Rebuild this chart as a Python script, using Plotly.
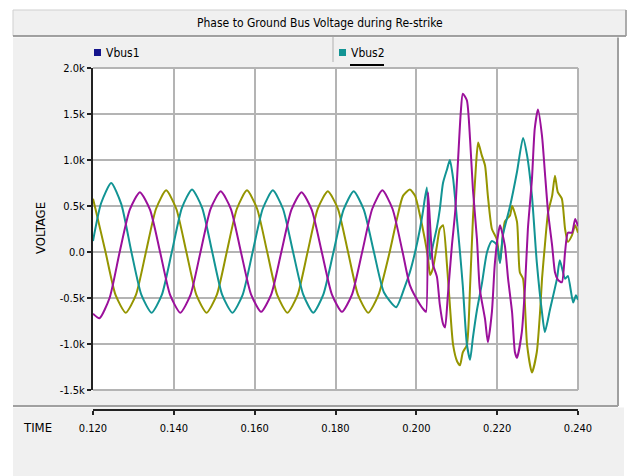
import plotly.graph_objects as go

# ---- phase-to-ground bus voltages (kV) ----
phase_a_t = [0.1200, 0.1216, 0.1241, 0.1266, 0.1291, 0.1316, 0.1341, 0.1366, 0.1391, 0.1416,
             0.1441, 0.1466, 0.1491, 0.1516, 0.1541, 0.1566, 0.1591, 0.1616, 0.1641, 0.1666,
             0.1691, 0.1716, 0.1741, 0.1766, 0.1791, 0.1816, 0.1841, 0.1866, 0.1891, 0.1916,
             0.1941, 0.1966, 0.1984, 0.2009, 0.2019, 0.2024, 0.2029, 0.2041, 0.2051, 0.2058,
             0.2066, 0.2071, 0.2078, 0.2088, 0.2096, 0.2103, 0.2110, 0.2115, 0.2125, 0.2133,
             0.2140, 0.2150, 0.2157, 0.2170, 0.2177, 0.2187, 0.2194, 0.2202, 0.2207, 0.2219,
             0.2227, 0.2237, 0.2244, 0.2249, 0.2261, 0.2269, 0.2276, 0.2286, 0.2293, 0.2301,
             0.2311, 0.2318, 0.2326, 0.2336, 0.2343, 0.2350, 0.2360, 0.2368, 0.2375, 0.2385,
             0.2393, 0.2400]
phase_a_v = [-0.67, -0.72, -0.50, 0.00, 0.46, 0.65, 0.46, 0.00, -0.47, -0.66,
             -0.47, 0.00, 0.47, 0.66, 0.47, 0.00, -0.46, -0.65, -0.46, 0.00,
             0.46, 0.65, 0.46, 0.00, -0.46, -0.65, -0.46, 0.00, 0.47, 0.67,
             0.47, 0.00, -0.36, -0.57, -0.63, -0.65, 0.65, -0.13, -0.27, -0.57,
             -0.78, -0.82, -0.47, 0.07, 0.43, 0.98, 1.52, 1.72, 1.65, 1.22,
             0.68, 0.14, -0.40, -0.73, -0.98, -0.65, -0.14, 0.18, 0.29, 0.07,
             -0.29, -0.66, -1.09, -1.15, -0.87, -0.37, 0.25, 0.79, 1.34, 1.55,
             1.26, 0.87, 0.43, 0.07, -0.22, -0.30, -0.33, 0.00, 0.21, 0.21,
             0.36, 0.28]

phase_b_t = [0.1200, 0.1220, 0.1245, 0.1270, 0.1295, 0.1320, 0.1345, 0.1370, 0.1395, 0.1420,
             0.1445, 0.1470, 0.1495, 0.1520, 0.1545, 0.1570, 0.1595, 0.1620, 0.1645, 0.1670,
             0.1695, 0.1720, 0.1745, 0.1770, 0.1795, 0.1820, 0.1845, 0.1870, 0.1895, 0.1920,
             0.1950, 0.1972, 0.1984, 0.1997, 0.2009, 0.2016, 0.2026, 0.2034, 0.2041, 0.2051,
             0.2058, 0.2066, 0.2076, 0.2083, 0.2091, 0.2101, 0.2108, 0.2115, 0.2125, 0.2133,
             0.2140, 0.2150, 0.2162, 0.2175, 0.2187, 0.2199, 0.2207, 0.2214, 0.2232, 0.2249,
             0.2264, 0.2274, 0.2286, 0.2298, 0.2311, 0.2318, 0.2331, 0.2348, 0.2355, 0.2368,
             0.2375, 0.2388, 0.2395, 0.2400]
phase_b_v = [0.12, 0.53, 0.75, 0.52, 0.00, -0.47, -0.66, -0.47, 0.00, 0.48,
             0.68, 0.48, 0.00, -0.47, -0.66, -0.47, 0.00, 0.47, 0.67, 0.47,
             0.00, -0.46, -0.66, -0.46, 0.00, 0.46, 0.66, 0.46, 0.00, -0.44,
             -0.60, -0.37, -0.22, 0.00, 0.25, 0.43, 0.70, -0.08, 0.07, 0.27,
             0.46, 0.75, 0.90, 1.00, 0.80, 0.33, 0.00, -0.37, -1.00, -1.17,
             -0.93, -0.63, -0.35, 0.00, 0.12, 0.08, -0.12, 0.18, 0.50, 0.87,
             1.24, 1.05, 0.61, -0.11, -0.66, -0.87, -0.62, -0.29, -0.09, -0.29,
             -0.26, -0.55, -0.47, -0.52]

phase_c_t = [0.1200, 0.1206, 0.1231, 0.1256, 0.1281, 0.1306, 0.1331, 0.1356, 0.1381, 0.1406,
             0.1431, 0.1456, 0.1481, 0.1506, 0.1531, 0.1556, 0.1581, 0.1606, 0.1631, 0.1656,
             0.1681, 0.1706, 0.1731, 0.1756, 0.1781, 0.1806, 0.1831, 0.1856, 0.1881, 0.1906,
             0.1934, 0.1952, 0.1967, 0.1984, 0.1997, 0.2009, 0.2021, 0.2029, 0.2034, 0.2041,
             0.2051, 0.2058, 0.2066, 0.2076, 0.2083, 0.2091, 0.2101, 0.2108, 0.2115, 0.2125,
             0.2133, 0.2140, 0.2148, 0.2153, 0.2162, 0.2170, 0.2177, 0.2187, 0.2199, 0.2207,
             0.2219, 0.2232, 0.2237, 0.2249, 0.2256, 0.2264, 0.2274, 0.2286, 0.2298, 0.2306,
             0.2311, 0.2318, 0.2326, 0.2336, 0.2343, 0.2350, 0.2360, 0.2368, 0.2375, 0.2385,
             0.2393, 0.2400]
phase_c_v = [0.58, 0.47, 0.00, -0.47, -0.66, -0.47, 0.00, 0.47, 0.67, 0.47,
             0.00, -0.47, -0.66, -0.47, 0.00, 0.47, 0.67, 0.47, 0.00, -0.47,
             -0.66, -0.47, 0.00, 0.47, 0.66, 0.47, 0.00, -0.47, -0.66, -0.47,
             0.00, 0.36, 0.61, 0.68, 0.61, 0.40, 0.14, -0.07, -0.25, -0.18,
             0.07, 0.25, 0.29, -0.15, -0.58, -1.01, -1.19, -1.23, -1.09, -1.01,
             -0.37, 0.36, 0.97, 1.19, 1.05, 0.94, 0.61, 0.25, 0.14, -0.11,
             0.33, 0.40, 0.50, 0.33, -0.22, -0.29, -1.01, -1.31, -1.09, -0.66,
             -0.29, 0.07, 0.43, 0.61, 0.83, 0.65, 0.58, 0.25, 0.11, 0.18,
             0.29, 0.21]

y_tick_vals = [2.0, 1.5, 1.0, 0.5, 0.0, -0.5, -1.0, -1.5]
y_tick_text = ["2.0k", "1.5k", "1.0k", "0.5k", "0.0", "-0.5k", "-1.0k", "-1.5k"]
x_tick_vals = [0.12, 0.14, 0.16, 0.18, 0.20, 0.22, 0.24]
x_tick_text = ["0.120", "0.140", "0.160", "0.180", "0.200", "0.220", "0.240"]

TITLE = "Phase to Ground Bus Voltage during Re-strike"
legend_names = ["Vbus1", "Vbus2"]
legend_colors = ["#14148c", "#129494"]

FONT = "Liberation Sans Narrow, DejaVu Sans Condensed, Arial Narrow, Roboto Condensed, sans-serif"
PURPLE, TEAL, OLIVE = "#9b109b", "#129494", "#959500"
GRID = "#b4b4b4"
PANEL = "#f0f0f0"

# page geometry in pixels
W, H = 634, 476
L, R, T, B = 93, 578, 68, 410          # plotting region (B = time ruler line)
PLOT_BOTTOM = 390                      # bottom edge of the voltage panel


def px(x):
    return (x - L) / (R - L)


def py(y):
    return (B - y) / (B - T)


fig = go.Figure()
for t, v, c in [(phase_c_t, phase_c_v, OLIVE),
                (phase_b_t, phase_b_v, TEAL),
                (phase_a_t, phase_a_v, PURPLE)]:
    fig.add_trace(go.Scatter(x=t, y=v, mode="lines",
                             line=dict(color=c, width=2, shape="spline", smoothing=0.6),
                             hoverinfo="skip", showlegend=False))

# carrier for the separate time ruler axis
fig.add_trace(go.Scatter(x=[x_tick_vals[0], x_tick_vals[-1]], y=[None, None],
                         xaxis="x2", yaxis="y", mode="lines", showlegend=False))

shapes = [
    # title bar
    dict(type="rect", xref="paper", yref="paper", x0=px(13), x1=px(626), y0=py(36), y1=py(10),
         fillcolor=PANEL, line=dict(color="#cfcfcf", width=1), layer="below"),
    dict(type="line", xref="paper", yref="paper", x0=px(13), x1=px(626), y0=py(36), y1=py(36),
         line=dict(color="#8a8a8a", width=1.5), layer="below"),
    dict(type="line", xref="paper", yref="paper", x0=px(626), x1=px(626), y0=py(36), y1=py(10),
         line=dict(color="#9a9a9a", width=1.5), layer="below"),
    # plot panel
    dict(type="rect", xref="paper", yref="paper", x0=px(13), x1=px(618), y0=py(406), y1=py(37.5),
         fillcolor=PANEL, line=dict(width=0), layer="below"),
    dict(type="line", xref="paper", yref="paper", x0=px(618), x1=px(618), y0=py(406), y1=py(37.5),
         line=dict(color="#a0a0a0", width=2), layer="below"),
    dict(type="line", xref="paper", yref="paper", x0=px(13), x1=px(618), y0=py(406), y1=py(406),
         line=dict(color="#a0a0a0", width=2), layer="below"),
    # time ruler strip
    dict(type="rect", xref="paper", yref="paper", x0=px(13), x1=px(624), y0=py(476), y1=py(407.5),
         fillcolor=PANEL, line=dict(width=0), layer="below"),
    # white plotting area
    dict(type="rect", xref="paper", yref="paper", x0=0, x1=1, y0=py(PLOT_BOTTOM), y1=1,
         fillcolor="white", line=dict(width=0), layer="below"),
    # grey frame on top, right and bottom of the plotting area
    dict(type="line", xref="paper", yref="paper", x0=0, x1=1, y0=1, y1=1,
         line=dict(color=GRID, width=2), layer="below"),
    dict(type="line", xref="paper", yref="paper", x0=1, x1=1, y0=py(PLOT_BOTTOM), y1=1,
         line=dict(color=GRID, width=2), layer="below"),
    dict(type="line", xref="paper", yref="paper", x0=0, x1=1, y0=py(PLOT_BOTTOM), y1=py(PLOT_BOTTOM),
         line=dict(color=GRID, width=2), layer="below"),
    # legend row divider and underline
    dict(type="line", xref="paper", yref="paper", x0=px(333), x1=px(333), y0=py(62), y1=py(37),
         line=dict(color="#b0b0b0", width=1), layer="below"),
    dict(type="line", xref="paper", yref="paper", x0=px(350), x1=px(384), y0=py(65), y1=py(65),
         line=dict(color="black", width=2)),
]

annotations = [
    dict(text=TITLE, xref="paper", yref="paper", x=px(320), y=py(23), showarrow=False,
         font=dict(size=12, color="black", family=FONT), xanchor="center", yanchor="middle"),
    dict(text="VOLTAGE", xref="paper", yref="paper", x=px(40), y=py(228), showarrow=False,
         textangle=-90, font=dict(size=13, color="black", family=FONT),
         xanchor="center", yanchor="middle"),
    dict(text="TIME", xref="paper", yref="paper", x=px(37), y=py(427), showarrow=False,
         font=dict(size=13, color="black", family=FONT), xanchor="center", yanchor="middle"),
]

legend_x = [94, 339]
for name, col, lx in zip(legend_names, legend_colors, legend_x):
    shapes.append(dict(type="rect", xref="paper", yref="paper", x0=px(lx), x1=px(lx + 7),
                       y0=py(56), y1=py(49), fillcolor=col, line=dict(width=0)))
    annotations.append(dict(text=name, xref="paper", yref="paper", x=px(lx + 10), y=py(52.5),
                            showarrow=False, xanchor="left", yanchor="middle",
                            font=dict(size=12, color="black", family=FONT)))

fig.update_layout(
    width=W, height=H,
    margin=dict(l=L, r=W - R, t=T, b=H - B, pad=0),
    paper_bgcolor="white", plot_bgcolor="white",
    font=dict(family=FONT, size=11, color="black"),
    showlegend=False,
    shapes=shapes, annotations=annotations,
    xaxis=dict(range=[0.12, 0.24], tickvals=x_tick_vals, showticklabels=False,
               showgrid=True, gridcolor=GRID, gridwidth=1.5, zeroline=False,
               showline=False, ticks=""),
    xaxis2=dict(range=[0.12, 0.24], overlaying="x", anchor="free", position=0, side="bottom",
                tickvals=x_tick_vals, ticktext=x_tick_text, showgrid=False, zeroline=False,
                showline=True, linecolor="#222222", linewidth=2, ticks="outside", ticklen=4,
                tickwidth=1.5, tickcolor="#222222", ticklabelstandoff=4,
                tickfont=dict(size=11, family=FONT, color="black")),
    yaxis=dict(domain=[py(PLOT_BOTTOM), 1], range=[-1.5, 2.0], tickvals=y_tick_vals,
               ticktext=y_tick_text, showgrid=True, gridcolor=GRID, gridwidth=1.5,
               zeroline=False, showline=True, linecolor="#222222", linewidth=2,
               ticks="outside", ticklen=4, tickwidth=1.5, tickcolor="#222222",
               tickfont=dict(size=11, family=FONT, color="black")),
)

fig.write_html("out.html")
